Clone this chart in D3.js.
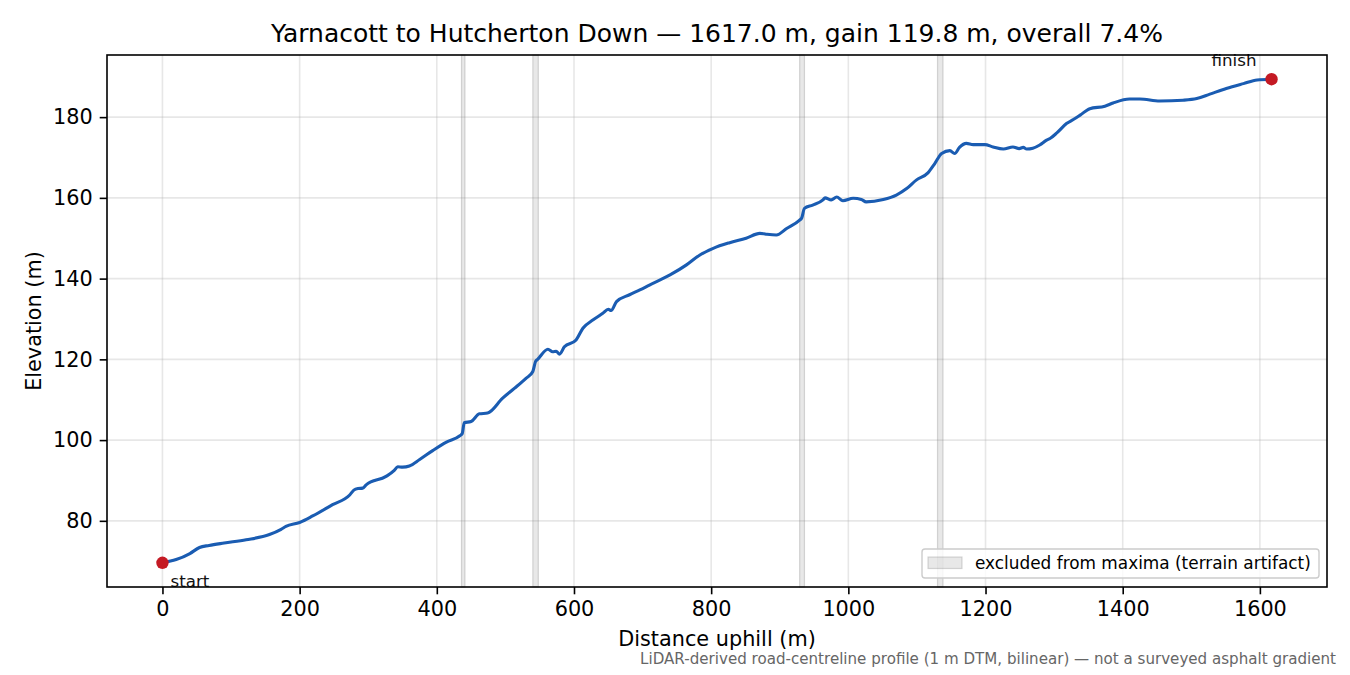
<!DOCTYPE html>
<html>
<head>
<meta charset="utf-8">
<script src="https://cdn.jsdelivr.net/npm/d3@7"></script>
<style>
  body { margin: 0; background: #fff; }
  svg { display: block; font-family: "DejaVu Sans", sans-serif; }
  .tick text { font-family: "DejaVu Sans", sans-serif; }
</style>
</head>
<body>
<div id="chart"></div>
<script>
// profile, distance (m) vs elevation (m)
const distance = [0, 20, 40, 54, 68, 90, 122, 156, 173, 180, 200, 219, 248, 273, 279, 285, 292, 297, 326, 338,
  343, 350, 360, 375, 394, 414, 433, 437, 440, 450, 462, 474, 496, 513, 530, 540, 544, 547, 562, 569,
  574, 579, 586, 603, 613, 628, 642, 650, 654, 662, 681, 696, 710, 740, 764, 783, 803, 827, 851, 871,
  880, 895, 910, 929, 932, 936, 948, 963, 966, 975, 983, 992, 1007, 1019, 1026, 1051, 1070, 1085, 1099, 1116,
  1126, 1136, 1148, 1155, 1162, 1172, 1182, 1199, 1211, 1226, 1240, 1249, 1255, 1260, 1269, 1279, 1289, 1294, 1304, 1318,
  1328, 1338, 1352, 1374, 1386, 1410, 1425, 1454, 1488, 1508, 1527, 1551, 1576, 1596, 1617];
const elevation = [69.6, 70.4, 71.9, 73.4, 73.9, 74.5, 75.3, 76.6, 77.9, 78.6, 79.6, 81.2, 84.0, 86.4, 87.6, 88.0, 88.1, 88.9, 91.0, 92.5,
  93.4, 93.3, 93.6, 95.2, 97.4, 99.5, 101.0, 101.6, 104.3, 104.6, 106.5, 106.7, 110.4, 112.8, 115.3, 117.0, 119.5, 120.0, 122.5, 121.9,
  122.0, 121.3, 123.1, 124.8, 127.7, 129.8, 131.4, 132.4, 132.1, 134.3, 136.0, 137.2, 138.4, 140.9, 143.4, 145.8, 147.5, 148.9, 150.0, 151.2,
  151.0, 150.8, 152.4, 154.5, 155.0, 157.4, 158.2, 159.5, 160.0, 159.5, 160.2, 159.3, 159.9, 159.6, 159.0, 159.6, 160.7, 162.3, 164.4, 166.2,
  168.5, 171.0, 171.7, 171.0, 172.5, 173.5, 173.2, 173.2, 172.6, 172.1, 172.6, 172.2, 172.5, 172.1, 172.3, 173.1, 174.3, 174.7, 176.1, 178.4,
  179.4, 180.5, 182.1, 182.7, 183.5, 184.5, 184.5, 184.0, 184.2, 184.6, 185.7, 187.1, 188.3, 189.2, 189.4];

// excluded stretches (terrain artifacts)
const excludedStart = [436, 540, 929, 1130];
const excludedEnd = [441, 548, 936, 1138];

const xTicks = [0, 200, 400, 600, 800, 1000, 1200, 1400, 1600];
const yTicks = [80, 100, 120, 140, 160, 180];

const titleText = "Yarnacott to Hutcherton Down \u2014 1617.0 m, gain 119.8 m, overall 7.4%";
const footText = "LiDAR-derived road-centreline profile (1 m DTM, bilinear) \u2014 not a surveyed asphalt gradient";

const W = 1350, H = 675;
const margin = {top: 55, right: 23, bottom: 88, left: 107};
const iw = W - margin.left - margin.right;
const ih = H - margin.top - margin.bottom;

const svg = d3.select("#chart").append("svg")
  .attr("width", W)
  .attr("height", H);

const data = distance.map((d, i) => ({d: d, e: elevation[i]}));

// matplotlib-like 5% padding on both axes
const xMin = d3.min(distance), xMax = d3.max(distance);
const yMin = d3.min(elevation), yMax = d3.max(elevation);
const xPad = (xMax - xMin) * 0.05, yPad = (yMax - yMin) * 0.05;

const x = d3.scaleLinear().domain([xMin - xPad, xMax + xPad]).range([0, iw]);
const y = d3.scaleLinear().domain([yMin - yPad, yMax + yPad]).range([ih, 0]);

const g = svg.append("g").attr("transform", "translate(" + margin.left + "," + margin.top + ")");

// grid
g.append("g").selectAll("line").data(xTicks).enter().append("line")
  .attr("x1", d => x(d)).attr("x2", d => x(d))
  .attr("y1", 0).attr("y2", ih)
  .attr("stroke", "#b0b0b0").attr("stroke-opacity", 0.3).attr("stroke-width", 1.6);
g.append("g").selectAll("line").data(yTicks).enter().append("line")
  .attr("x1", 0).attr("x2", iw)
  .attr("y1", d => y(d)).attr("y2", d => y(d))
  .attr("stroke", "#b0b0b0").attr("stroke-opacity", 0.3).attr("stroke-width", 1.6);

// excluded bands
g.append("g").selectAll("rect").data(excludedStart).enter().append("rect")
  .attr("x", (d, i) => x(d))
  .attr("width", (d, i) => x(excludedEnd[i]) - x(d))
  .attr("y", 0).attr("height", ih)
  .attr("fill", "#808080").attr("fill-opacity", 0.18)
  .attr("stroke", "#808080").attr("stroke-opacity", 0.3).attr("stroke-width", 1.2);

// profile line
const line = d3.line().x(d => x(d.d)).y(d => y(d.e)).curve(d3.curveMonotoneX);
g.append("path").datum(data)
  .attr("d", line)
  .attr("fill", "none")
  .attr("stroke", "#1a5cb2")
  .attr("stroke-width", 3.1)
  .attr("stroke-linejoin", "round")
  .attr("stroke-linecap", "round");

// start / finish markers
const ends = [data[0], data[data.length - 1]];
g.append("g").selectAll("circle").data(ends).enter().append("circle")
  .attr("cx", d => x(d.d)).attr("cy", d => y(d.e))
  .attr("r", 6.2).attr("fill", "#c41a24");

g.append("text")
  .attr("x", x(ends[0].d) + 8).attr("y", y(ends[0].e) + 24)
  .attr("font-size", 16.7).attr("fill", "#111")
  .text("start");
g.append("text")
  .attr("x", x(ends[1].d) - 15).attr("y", y(ends[1].e) - 13)
  .attr("text-anchor", "end")
  .attr("font-size", 16.7).attr("fill", "#111")
  .text("finish");

// axes
const xAxis = g.append("g").attr("transform", "translate(0," + ih + ")")
  .call(d3.axisBottom(x).tickValues(xTicks).tickFormat(d3.format("d")).tickSize(7.3).tickPadding(7));
const yAxis = g.append("g")
  .call(d3.axisLeft(y).tickValues(yTicks).tickFormat(d3.format("d")).tickSize(7.3).tickPadding(7));
[xAxis, yAxis].forEach(a => {
  a.select(".domain").remove();
  a.selectAll(".tick line").attr("stroke", "#000").attr("stroke-width", 1.6);
  a.selectAll(".tick text").attr("font-size", 20.8).attr("fill", "#000");
});

// frame
g.append("rect")
  .attr("x", 0).attr("y", 0).attr("width", iw).attr("height", ih)
  .attr("fill", "none").attr("stroke", "#000").attr("stroke-width", 1.6);

// legend
const lg = g.append("g").attr("transform", "translate(" + (iw - 405) + "," + (ih - 38) + ")");
lg.append("rect")
  .attr("width", 397).attr("height", 29).attr("rx", 3)
  .attr("fill", "#fff").attr("fill-opacity", 0.8)
  .attr("stroke", "#cccccc").attr("stroke-width", 1.4);
lg.append("rect")
  .attr("x", 6).attr("y", 8).attr("width", 34).attr("height", 11.5)
  .attr("fill", "#808080").attr("fill-opacity", 0.18)
  .attr("stroke", "#808080").attr("stroke-opacity", 0.3).attr("stroke-width", 1.2);
lg.append("text")
  .attr("x", 53).attr("y", 20)
  .attr("font-size", 16.9).attr("fill", "#000")
  .text("excluded from maxima (terrain artifact)");

// labels
svg.append("text")
  .attr("x", margin.left + iw / 2).attr("y", 42)
  .attr("text-anchor", "middle")
  .attr("font-size", 25).attr("fill", "#000")
  .text(titleText);

svg.append("text")
  .attr("x", margin.left + iw / 2).attr("y", 646)
  .attr("text-anchor", "middle")
  .attr("font-size", 20.8).attr("fill", "#000")
  .text("Distance uphill (m)");

svg.append("text")
  .attr("transform", "translate(41," + (margin.top + ih / 2) + ") rotate(-90)")
  .attr("text-anchor", "middle")
  .attr("font-size", 20.8).attr("fill", "#000")
  .text("Elevation (m)");

svg.append("text")
  .attr("x", 1336).attr("y", 664)
  .attr("text-anchor", "end")
  .attr("font-size", 15.1).attr("fill", "#666")
  .text(footText);
</script>
</body>
</html>
